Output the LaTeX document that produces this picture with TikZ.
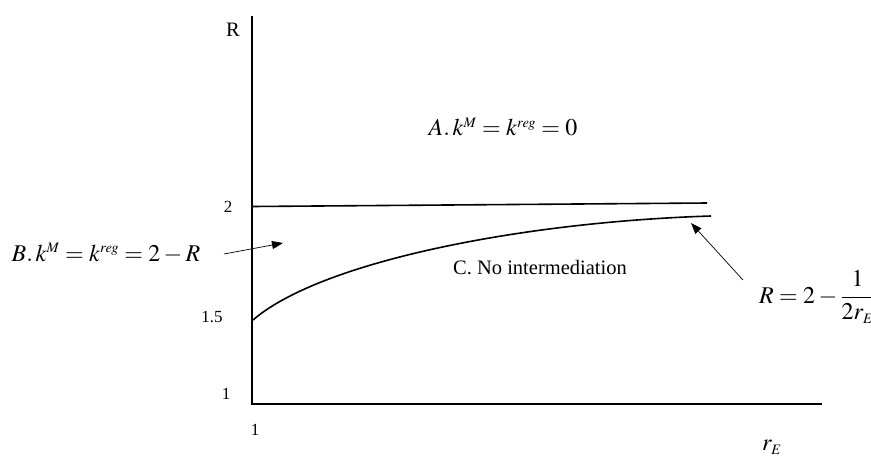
\documentclass[tikz,border=0pt]{standalone}
\usepackage{mathptmx}
\usepackage{fontspec}
\setmainfont{Liberation Serif}
\usetikzlibrary{arrows.meta}
\begin{document}
\begin{tikzpicture}[x=1pt,y=-1pt,
  axisline/.style={line width=1.8pt},
  curveline/.style={line width=1.6pt},
  pointer/.style={line width=0.7pt,-{Triangle[length=11pt,width=8pt]}},
  lbl/.style={inner sep=0pt},
  ticklbl/.style={inner sep=0pt,font=\fontsize{17}{20}\selectfont},
  txtlbl/.style={inner sep=0pt,font=\fontsize{20.5}{24}\selectfont},
  mathlbl/.style={inner sep=0pt,font=\fontsize{24}{28}\selectfont}]
\useasboundingbox (0,0) rectangle (871,459);
% axes
\coordinate (O) at (252,404);
\coordinate (Ytop) at (252,16);
\coordinate (Xend) at (822,404);
\draw[axisline] (Ytop) -- (O) -- (Xend);
% horizontal boundary R=2
\coordinate (H1) at (252,206.5);
\coordinate (H2) at (707,203);
\draw[curveline] (H1) -- (H2);
% curve R = 2 - 1/(2 r_E)
\coordinate (K1) at (253,320);
\coordinate (K2) at (711,216);
\draw[curveline] (K1) .. controls (320,262) and (520,222) .. (K2);
% labels
\node[txtlbl] (Rax) at (233,30) {R};
\node[ticklbl] (t2) at (228,207) {2};
\node[ticklbl] (t15) at (212,317) {1.5};
\node[ticklbl] (t1y) at (226,394) {1};
\node[ticklbl] (t1x) at (255,430) {1};
\node[mathlbl] (rE) at (772,447) {$r_{\scriptscriptstyle E}$};
\node[mathlbl] (A) at (503,127) {$A.\,k^{\scriptscriptstyle M}=k^{\scriptscriptstyle reg}=0$};
\node[mathlbl] (B) at (106,253) {$B.\,k^{\scriptscriptstyle M}=k^{\scriptscriptstyle reg}=2-R$};
\node[txtlbl] (C) at (540,268) {C. No intermediation};
\node[mathlbl,anchor=west] (F) at (759,297) {$R=2-\displaystyle\frac{1}{2r_{\scriptscriptstyle E}}$};
% pointers
\coordinate (Btail) at (224,254);
\coordinate (Btip) at (283,243);
\draw[pointer] (Btail) -- (Btip);
\coordinate (Ftail) at (743,280);
\coordinate (Ftip) at (691,223);
\draw[pointer] (Ftail) -- (Ftip);
\end{tikzpicture}
\end{document}
